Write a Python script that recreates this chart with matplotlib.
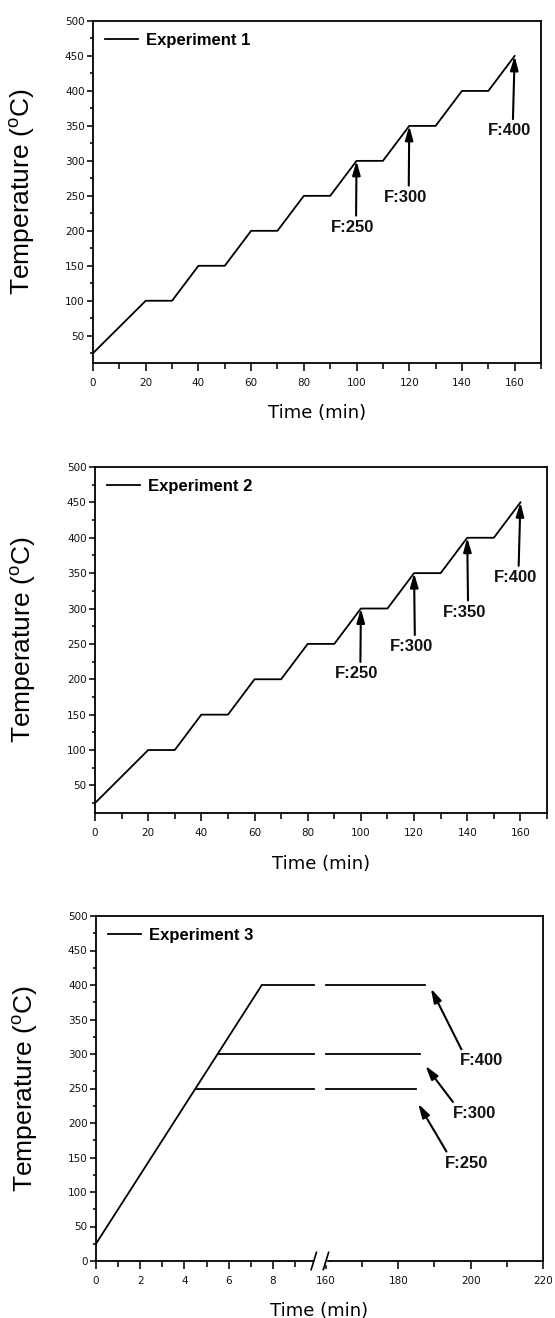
import numpy as np
import matplotlib
matplotlib.use("Agg")
import matplotlib.pyplot as plt
from matplotlib.ticker import MultipleLocator, FixedLocator

plt.rcParams["font.family"] = ["Liberation Sans", "DejaVu Sans"]
plt.rcParams["mathtext.fontset"] = "custom"
plt.rcParams["mathtext.rm"] = "Liberation Sans"

# stepped heating program (experiments 1 and 2)
step_time = [0, 20, 30, 40, 50, 60, 70, 80, 90, 100, 110, 120, 130, 140, 150, 160]
step_temp = [25, 100, 100, 150, 150, 200, 200, 250, 250, 300, 300, 350, 350, 400, 400, 450]

# annotations: label, tip (x, y), text (x, y)
exp1_labels = ["F:250", "F:300", "F:400"]
exp1_tips = [(100, 300), (120, 350), (160, 450)]
exp1_text = [(98.5, 205), (118.5, 248), (158, 343)]

exp2_labels = ["F:250", "F:300", "F:350", "F:400"]
exp2_tips = [(100, 300), (120, 350), (140, 400), (160, 450)]
exp2_text = [(98.5, 208), (119, 246), (139, 295), (158, 344)]

# experiment 3: ramp at 50 C/min then isothermal hold
ramp_time = [0, 7.5]
ramp_temp = [25, 400]
hold_temps = [250, 300, 400]
hold_start = [4.5, 5.5, 7.5]
hold_end = [185, 186, 187.5]
exp3_labels = ["F:250", "F:300", "F:400"]
exp3_tips = [(185.5, 228), (187.5, 283), (189, 395)]
exp3_text = [(199, 142), (201, 214), (203, 290)]

# broken x axis for experiment 3
B0, B1, GAP, R = 9.85, 160.0, 0.55, 0.1636


def fwd(x):
    x = np.asarray(x, dtype=float)
    return np.where(x <= B0, x,
                    np.where(x >= B1, B0 + GAP + (x - B1) * R,
                             B0 + (x - B0) * GAP / (B1 - B0)))


def inv(u):
    u = np.asarray(u, dtype=float)
    return np.where(u <= B0, u,
                    np.where(u >= B0 + GAP, B1 + (u - B0 - GAP) / R,
                             B0 + (u - B0) * (B1 - B0) / GAP))


W, H = 555, 1318


def make_ax(fig, left, right, top, bottom):
    return fig.add_axes([left / W, 1 - bottom / H, (right - left) / W, (bottom - top) / H])


def style(ax, ymin):
    ax.set_ylim(ymin, 500)
    ax.yaxis.set_major_locator(MultipleLocator(50))
    ax.yaxis.set_minor_locator(MultipleLocator(25))
    for s in ax.spines.values():
        s.set_linewidth(1.3)
    ax.tick_params(axis="both", which="both", direction="out", width=1.2,
                   labelsize=7.5, colors="#111111")
    ax.tick_params(axis="x", which="major", length=6, pad=5)
    ax.tick_params(axis="x", which="minor", length=4)
    ax.tick_params(axis="y", which="major", length=4, pad=2)
    ax.tick_params(axis="y", which="minor", length=2)
    for lab in ax.get_xticklabels() + ax.get_yticklabels():
        lab.set_family("DejaVu Sans")
    ax.set_ylabel(r"Temperature ($^{\mathrm{o}}$C)", fontsize=19)
    ax.yaxis.set_label_coords(-0.125, 0.5)
    ax.set_xlabel("Time (min)", fontsize=13, family="DejaVu Sans")
    ax.xaxis.set_label_coords(0.5, -0.12)
    ax.legend(loc="upper left", frameon=False, handlelength=2.0,
              handletextpad=0.5, borderaxespad=0.3,
              prop={"weight": "bold", "size": 12})


def annotate(ax, labels, tips, texts, relx=0.5, rely=1.0):
    for lab, tip, txt in zip(labels, tips, texts):
        ax.annotate(lab, xy=tip, xytext=txt, ha="center", va="center",
                    fontsize=12, fontweight="bold", color="#111111",
                    arrowprops=dict(arrowstyle="-|>,head_length=0.7,head_width=0.2",
                                    color="black", lw=1.5, shrinkA=1, shrinkB=0,
                                    relpos=(relx, rely)))


fig = plt.figure(figsize=(W / 100, H / 100), dpi=100)

# Experiment 1
ax1 = make_ax(fig, 93, 541, 21, 363)
ax1.plot(step_time, step_temp, color="black", lw=1.3, label="Experiment 1")
ax1.set_xlim(0, 170)
ax1.xaxis.set_major_locator(MultipleLocator(20))
ax1.xaxis.set_minor_locator(MultipleLocator(10))
style(ax1, 11)
annotate(ax1, exp1_labels, exp1_tips, exp1_text, relx=0.58)

# Experiment 2
ax2 = make_ax(fig, 95, 547, 467, 813)
ax2.plot(step_time, step_temp, color="black", lw=1.3, label="Experiment 2")
ax2.set_xlim(0, 170)
ax2.xaxis.set_major_locator(MultipleLocator(20))
ax2.xaxis.set_minor_locator(MultipleLocator(10))
style(ax2, 11)
annotate(ax2, exp2_labels, exp2_tips, exp2_text, relx=0.58)

# Experiment 3
ax3 = make_ax(fig, 96, 543, 916, 1261)
ax3.set_xscale("function", functions=(fwd, inv))
ax3.plot(ramp_time, ramp_temp, color="black", lw=1.3, label="Experiment 3")
for t, x0, x1 in zip(hold_temps, hold_start, hold_end):
    ax3.plot([x0, B0], [t, t], color="black", lw=1.3)
    ax3.plot([B1, x1], [t, t], color="black", lw=1.3)
ax3.set_xlim(0, 220)
ax3.xaxis.set_major_locator(FixedLocator([0, 2, 4, 6, 8, 160, 180, 200, 220]))
ax3.xaxis.set_minor_locator(FixedLocator([1, 3, 5, 7, 9, 170, 190, 210]))
style(ax3, 0)
annotate(ax3, exp3_labels, exp3_tips, exp3_text, relx=0.1, rely=0.9)

# axis break marks
trans = ax3.get_xaxis_transform()
ax3.fill_between([B0, B1], -0.01, 0.01, transform=trans, color="white",
                 zorder=5, clip_on=False)
for xb in (B0, B1):
    ax3.plot([inv(fwd(xb) - 0.12), inv(fwd(xb) + 0.12)], [-0.025, 0.025],
             transform=trans, color="black", lw=1.2, clip_on=False, zorder=6)

fig.savefig("out.png", dpi=100)
